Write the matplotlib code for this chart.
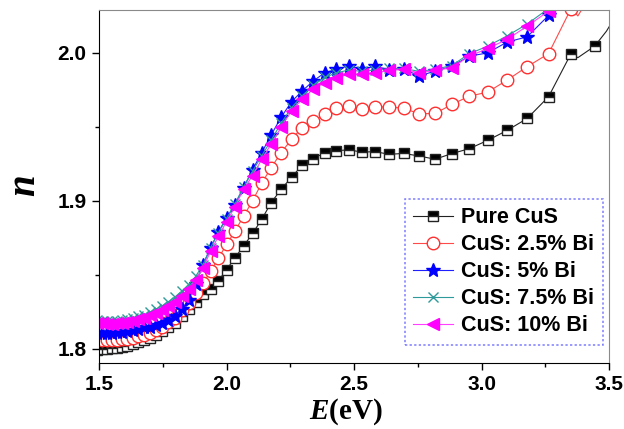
import matplotlib
matplotlib.use("Agg")
import matplotlib.pyplot as plt

plt.rcParams["font.family"] = "Liberation Sans"
plt.rcParams["font.weight"] = "bold"
plt.rcParams["mathtext.fontset"] = "custom"
plt.rcParams["mathtext.it"] = "Liberation Serif:bold:italic"
plt.rcParams["mathtext.rm"] = "Liberation Serif:bold"

# photon energy (eV), one point per 10 nm from 830 to 360 nm
energy = [1.494, 1.512, 1.531, 1.550, 1.570, 1.590, 1.610, 1.632, 1.653, 1.676,
          1.699, 1.722, 1.746, 1.771, 1.797, 1.824, 1.851, 1.879, 1.908, 1.938,
          1.968, 2.000, 2.033, 2.067, 2.102, 2.138, 2.175, 2.214, 2.255, 2.296,
          2.340, 2.385, 2.431, 2.480, 2.531, 2.583, 2.638, 2.696, 2.756, 2.818,
          2.884, 2.952, 3.024, 3.100, 3.179, 3.263, 3.351, 3.444]

n_pure = [1.7995, 1.7997, 1.8000, 1.8003, 1.8008, 1.8013, 1.8020, 1.8030, 1.8045, 1.8058,
          1.8075, 1.8095, 1.8120, 1.8148, 1.8177, 1.8220, 1.8270, 1.8320, 1.8370, 1.8405,
          1.8460, 1.8535, 1.8616, 1.8695, 1.8780, 1.8875, 1.8988, 1.9078, 1.9160, 1.9240,
          1.9285, 1.9326, 1.9340, 1.9345, 1.9330, 1.9333, 1.9315, 1.9321, 1.9303, 1.9282,
          1.9320, 1.9353, 1.9409, 1.9476, 1.9557, 1.9704, 1.9995, 2.0046]
n_bi25 = [1.8060, 1.8058, 1.8058, 1.8060, 1.8062, 1.8065, 1.8070, 1.8076, 1.8085, 1.8097,
          1.8110, 1.8128, 1.8150, 1.8180, 1.8210, 1.8260, 1.8310, 1.8375, 1.8445, 1.8525,
          1.8612, 1.8706, 1.8796, 1.8897, 1.9000, 1.9120, 1.9224, 1.9326, 1.9416, 1.9495,
          1.9539, 1.9584, 1.9630, 1.9640, 1.9623, 1.9634, 1.9636, 1.9625, 1.9589, 1.9591,
          1.9652, 1.9708, 1.9735, 1.9816, 1.9907, 1.9995, 2.0299, 2.0500]
n_bi5 = [1.8110, 1.8110, 1.8110, 1.8110, 1.8112, 1.8115, 1.8120, 1.8130, 1.8138, 1.8145,
         1.8150, 1.8162, 1.8175, 1.8195, 1.8225, 1.8270, 1.8330, 1.8440, 1.8570, 1.8685,
         1.8790, 1.8885, 1.8975, 1.9090, 1.9210, 1.9326, 1.9445, 1.9565, 1.9670, 1.9742,
         1.9810, 1.9866, 1.9889, 1.9913, 1.9889, 1.9910, 1.9886, 1.9889, 1.9845, 1.9877,
         1.9910, 1.9978, 2.0000, 2.0073, 2.0109, 2.0253, 2.0450, 2.0600]
n_bi75 = [1.8195, 1.8190, 1.8188, 1.8188, 1.8190, 1.8195, 1.8200, 1.8210, 1.8220, 1.8232,
          1.8250, 1.8268, 1.8290, 1.8318, 1.8350, 1.8390, 1.8435, 1.8490, 1.8570, 1.8685,
          1.8785, 1.8880, 1.8980, 1.9095, 1.9200, 1.9305, 1.9410, 1.9525, 1.9630, 1.9710,
          1.9780, 1.9835, 1.9865, 1.9885, 1.9875, 1.9885, 1.9895, 1.9895, 1.9875, 1.9890,
          1.9915, 1.9995, 2.0045, 2.0115, 2.0195, 2.0300, 2.0470, 2.0620]
n_bi10 = [1.8175, 1.8172, 1.8168, 1.8167, 1.8172, 1.8178, 1.8183, 1.8190, 1.8200, 1.8212,
          1.8228, 1.8245, 1.8265, 1.8290, 1.8320, 1.8360, 1.8405, 1.8465, 1.8550, 1.8660,
          1.8760, 1.8860, 1.8960, 1.9080, 1.9170, 1.9280, 1.9385, 1.9497, 1.9610, 1.9686,
          1.9755, 1.9800, 1.9830, 1.9858, 1.9855, 1.9861, 1.9884, 1.9889, 1.9866, 1.9882,
          1.9900, 1.9978, 2.0030, 2.0091, 2.0181, 2.0282, 2.0450, 2.0600]

# extra line-only points (no marker) seen at the high-energy end
pure_extra_e = [3.378, 3.490, 3.530]
pure_extra_n = [1.9968, 2.0147, 2.0260]
bi25_extra_e = [3.378, 3.410]
bi25_extra_n = [2.0250, 2.0340]

labels = ["Pure CuS", "CuS: 2.5% Bi", "CuS: 5% Bi", "CuS: 7.5% Bi", "CuS: 10% Bi"]


def merge(e, n, extra_e, extra_n):
    pts = sorted([(a, b, True) for a, b in zip(e, n)] +
                 [(a, b, False) for a, b in zip(extra_e, extra_n)])
    xs = [p[0] for p in pts]; ys = [p[1] for p in pts]
    marks = [i for i, p in enumerate(pts) if p[2]]
    return xs, ys, marks


fig = plt.figure(figsize=(6.24, 4.29), dpi=100)
ax = fig.add_axes([99/624, 66/429, 510/624, 353/429])

x, y, mk = merge(energy, n_pure, pure_extra_e, pure_extra_n)
ax.plot(x, y, color="#222222", lw=0.8, marker="s", ms=7, markevery=mk,
        fillstyle="top", mfc="black", mfcalt="white", mec="#222222", mew=1.0,
        label=labels[0])
x, y, mk = merge(energy, n_bi25, bi25_extra_e, bi25_extra_n)
ax.plot(x, y, color="#ff4a4a", lw=0.8, marker="o", ms=9, markevery=mk,
        mfc="white", mec="#ff3030", mew=1.0, label=labels[1])
ax.plot(energy, n_bi5, color="#2020ff", lw=0.8, marker="*", ms=10.5,
        mfc="#0000ff", mec="#0000ff", label=labels[2])
ax.plot(energy, n_bi75, color="#2e9a9a", lw=0.8, marker="x", ms=7, mew=1.0,
        mec="#2e9a9a", label=labels[3])
ax.plot(energy, n_bi10, color="#ff40ff", lw=0.8, marker="<", ms=9,
        mfc="#ff00ff", mec="#ff00ff", label=labels[4])

ax.set_xlim(1.5, 3.5)
ax.set_ylim(1.7905, 2.029)
ax.set_xticks([1.5, 2.0, 2.5, 3.0, 3.5])
ax.set_xticks([1.75, 2.25, 2.75, 3.25], minor=True)
ax.set_yticks([1.8, 1.9, 2.0])
ax.set_yticks([1.85, 1.95], minor=True)
ax.tick_params(which="both", direction="out", width=1, top=False, right=False)
ax.tick_params(which="major", length=5, labelsize=15, pad=4)
ax.tick_params(which="minor", length=3)
for s in ["top", "right"]:
    ax.spines[s].set_color("#8a8a8a")
for s in ["left", "bottom"]:
    ax.spines[s].set_color("black")

ax.set_xlabel(r"$\mathit{E}$(eV)", fontsize=21, fontfamily="Liberation Serif",
              fontweight="bold", labelpad=1)
ax.xaxis.label.set_x(0.485)
ax.set_ylabel(r"$\mathit{n}$", fontsize=28, labelpad=10, rotation=90)

leg = ax.legend(loc="lower right", bbox_to_anchor=(0.988, 0.051),
                bbox_transform=ax.transAxes, borderaxespad=0, fancybox=False,
                prop={"family": "Liberation Sans", "weight": "bold", "size": 15.5},
                handlelength=1.86, handletextpad=0.37, labelspacing=0.28,
                borderpad=0.4, frameon=True)
fr = leg.get_frame()
fr.set_edgecolor("#5c5cff"); fr.set_linestyle((0, (1.5, 1.5))); fr.set_linewidth(1.1)

fig.savefig("out.png", dpi=100)
